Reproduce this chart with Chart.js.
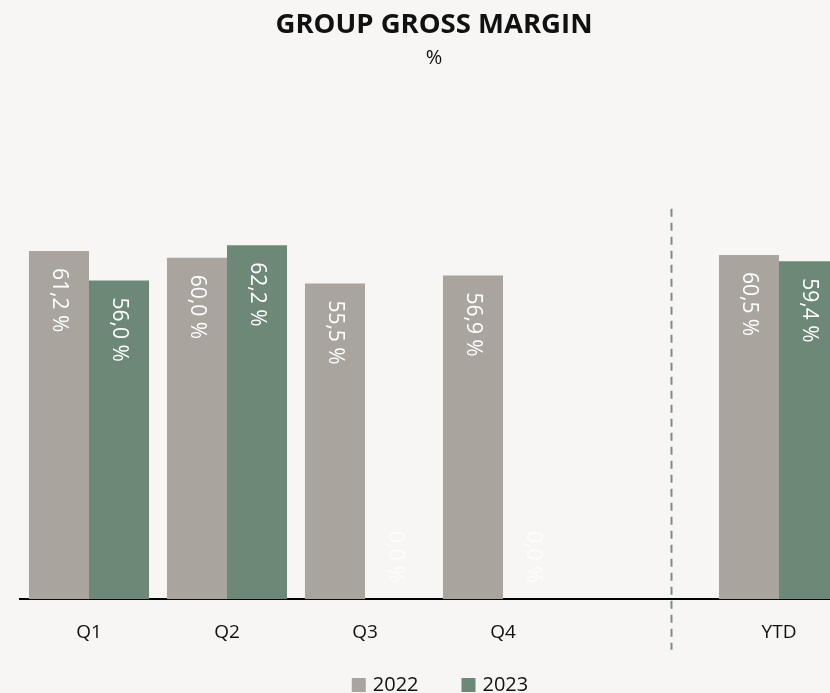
<!DOCTYPE html>
<html>
<head>
<meta charset="utf-8">
<script src="https://cdn.jsdelivr.net/npm/chart.js@4/dist/chart.umd.min.js"></script>
<style>
  html, body { margin: 0; padding: 0; background: #f7f6f4; overflow: hidden; }
  #wrap { position: absolute; left: 0; top: 0; width: 870px; height: 693px; }
</style>
</head>
<body>
<div id="wrap"><canvas id="c" width="870" height="693"></canvas></div>
<script>
const categories = ['Q1', 'Q2', 'Q3', 'Q4', '', 'YTD'];
const seriesNames = ['2022', '2023'];
const values2022 = [61.2, 60.0, 55.5, 56.9, null, 60.5];
const values2023 = [56.0, 62.2, 0.0, 0.0, null, 59.4];
const titleText = 'GROUP GROSS MARGIN';
const subtitleText = '%';
const separatorRange = [68.6, -8.9]; // vertical extent of dashed separator, in axis units

const colors = ['#a9a49e', '#6e8877'];
const FONT = "'Open Sans', 'Noto Sans', sans-serif";

function fmt(v) { return v.toFixed(1).replace('.', ',') + ' %'; }

const labelPlugin = {
  id: 'barLabels',
  afterDatasetsDraw(chart) {
    const ctx = chart.ctx;
    chart.data.datasets.forEach((ds, di) => {
      const meta = chart.getDatasetMeta(di);
      meta.data.forEach((el, i) => {
        const v = ds.data[i];
        if (v === null || v === undefined) return;
        ctx.save();
        ctx.font = "21px " + FONT;
        ctx.textBaseline = 'middle';
        if (v > 0) {
          ctx.fillStyle = '#ffffff';
          ctx.translate(el.x, el.y + 17);
          ctx.rotate(Math.PI / 2);
          ctx.textAlign = 'left';
        } else {
          ctx.fillStyle = 'rgba(255,255,255,0.8)';
          ctx.translate(el.x, el.base - 16);
          ctx.rotate(Math.PI / 2);
          ctx.textAlign = 'right';
        }
        ctx.fillText(fmt(v), 0, 0);
        ctx.restore();
      });
    });
  }
};

const separatorPlugin = {
  id: 'separator',
  afterDraw(chart) {
    const xs = chart.scales.x, ys = chart.scales.y;
    const p4 = xs.getPixelForValue(4), p5 = xs.getPixelForValue(5);
    const x = Math.round(p4 + 0.217 * (p5 - p4)) + 0.5;
    const ctx = chart.ctx;
    ctx.save();
    ctx.strokeStyle = '#7d8f84';
    ctx.lineWidth = 2;
    ctx.setLineDash([8, 6]);
    ctx.beginPath();
    ctx.moveTo(x, ys.getPixelForValue(separatorRange[0]));
    ctx.lineTo(x, ys.getPixelForValue(separatorRange[1]));
    ctx.stroke();
    ctx.restore();
  }
};

const legendPlugin = {
  id: 'customLegend',
  afterDraw(chart) {
    const ctx = chart.ctx;
    const ca = chart.chartArea;
    ctx.save();
    ctx.font = "20px " + FONT;
    ctx.textBaseline = 'middle';
    ctx.textAlign = 'left';
    const box = 14, gap = 7, spacing = 43;
    const ds = chart.data.datasets;
    const widths = ds.map(d => ctx.measureText(d.label).width);
    let total = 0;
    widths.forEach((w, i) => { total += box + gap + w + (i < widths.length - 1 ? spacing : 0); });
    let x = (ca.left + ca.right) / 2 + 6 - total / 2;
    const cy = chart.height - 8;
    ds.forEach((d, i) => {
      ctx.fillStyle = d.backgroundColor;
      ctx.fillRect(x, cy - box / 2, box, box);
      ctx.fillStyle = '#111';
      ctx.fillText(d.label, x + box + gap, cy);
      x += box + gap + widths[i] + spacing;
    });
    ctx.restore();
  }
};

new Chart(document.getElementById('c'), {
  type: 'bar',
  data: {
    labels: categories,
    datasets: [
      { label: seriesNames[0], data: values2022, backgroundColor: colors[0] },
      { label: seriesNames[1], data: values2023, backgroundColor: colors[1] }
    ]
  },
  options: {
    responsive: false,
    animation: false,
    devicePixelRatio: 1,
    categoryPercentage: 0.87,
    barPercentage: 1.0,
    layout: { padding: { left: 20, right: 22, top: 0, bottom: 27 } },
    plugins: {
      title: {
        display: true, text: titleText, color: '#111',
        font: { family: FONT, size: 27.5, weight: 'bold' },
        padding: { top: 9, bottom: 4 }
      },
      subtitle: {
        display: true, text: subtitleText, color: '#111',
        font: { family: FONT, size: 20 },
        padding: { top: 0, bottom: 74 }
      },
      legend: { display: false },
      tooltip: { enabled: false }
    },
    scales: {
      x: {
        grid: { display: false, drawTicks: false },
        border: { display: true, color: '#000', width: 2 },
        ticks: { color: '#111', font: { family: FONT, size: 19 }, padding: 22 }
      },
      y: { display: false, min: 0, max: 80 }
    }
  },
  plugins: [labelPlugin, separatorPlugin, legendPlugin]
});
</script>
</body>
</html>
